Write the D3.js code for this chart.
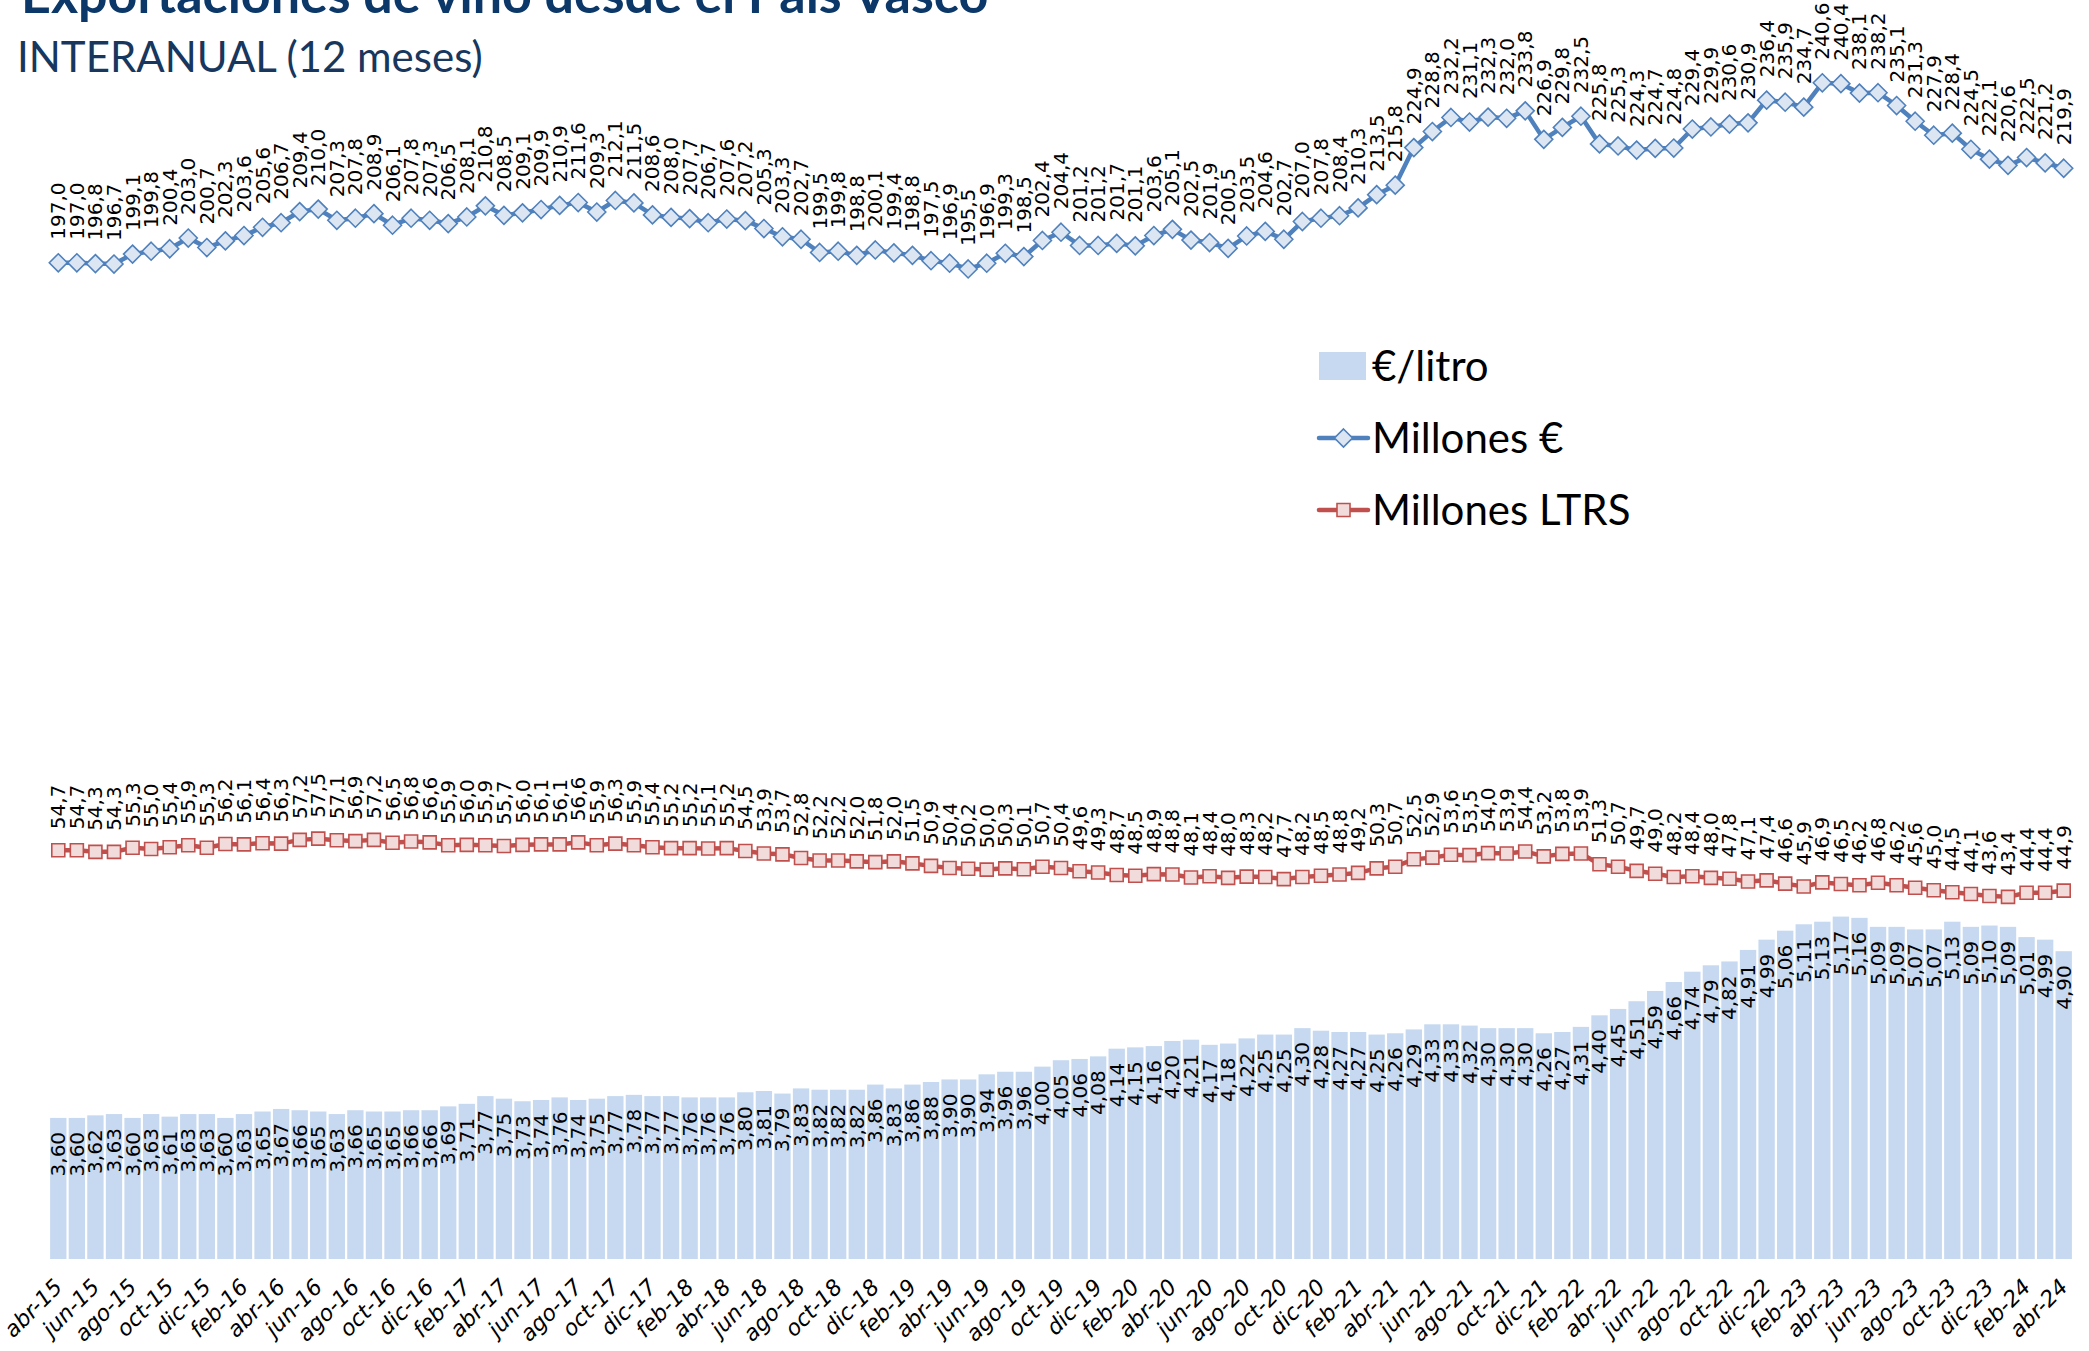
<!DOCTYPE html>
<html lang="es">
<head>
<meta charset="utf-8">
<title>Exportaciones de vino desde el País Vasco</title>
<script src="https://d3js.org/d3.v7.min.js"></script>
<style>
  body { margin: 0; background: #fff; }
  .lbl { font-family: "DejaVu Sans", sans-serif; font-size: 20px; fill: #000; }
  .xaxis text { font-family: "DejaVu Sans", sans-serif; font-style: italic; font-size: 22px; fill: #000; }
  .leg { font-family: Lato, sans-serif; font-size: 42px; fill: #000; }
</style>
</head>
<body>
<div id="viz"></div>
<script>

var months = [
  "abr-15","may-15","jun-15","jul-15","ago-15","sep-15","oct-15","nov-15","dic-15",
  "ene-16","feb-16","mar-16","abr-16","may-16","jun-16","jul-16","ago-16","sep-16","oct-16","nov-16","dic-16",
  "ene-17","feb-17","mar-17","abr-17","may-17","jun-17","jul-17","ago-17","sep-17","oct-17","nov-17","dic-17",
  "ene-18","feb-18","mar-18","abr-18","may-18","jun-18","jul-18","ago-18","sep-18","oct-18","nov-18","dic-18",
  "ene-19","feb-19","mar-19","abr-19","may-19","jun-19","jul-19","ago-19","sep-19","oct-19","nov-19","dic-19",
  "ene-20","feb-20","mar-20","abr-20","may-20","jun-20","jul-20","ago-20","sep-20","oct-20","nov-20","dic-20",
  "ene-21","feb-21","mar-21","abr-21","may-21","jun-21","jul-21","ago-21","sep-21","oct-21","nov-21","dic-21",
  "ene-22","feb-22","mar-22","abr-22","may-22","jun-22","jul-22","ago-22","sep-22","oct-22","nov-22","dic-22",
  "ene-23","feb-23","mar-23","abr-23","may-23","jun-23","jul-23","ago-23","sep-23","oct-23","nov-23","dic-23",
  "ene-24","feb-24","mar-24","abr-24"];

// €/litro (barras)
var eurLitro = [
  3.60,3.60,3.62,3.63,3.60,3.63,3.61,3.63,3.63,3.60,
  3.63,3.65,3.67,3.66,3.65,3.63,3.66,3.65,3.65,3.66,
  3.66,3.69,3.71,3.77,3.75,3.73,3.74,3.76,3.74,3.75,
  3.77,3.78,3.77,3.77,3.76,3.76,3.76,3.80,3.81,3.79,
  3.83,3.82,3.82,3.82,3.86,3.83,3.86,3.88,3.90,3.90,
  3.94,3.96,3.96,4.00,4.05,4.06,4.08,4.14,4.15,4.16,
  4.20,4.21,4.17,4.18,4.22,4.25,4.25,4.30,4.28,4.27,
  4.27,4.25,4.26,4.29,4.33,4.33,4.32,4.30,4.30,4.30,
  4.26,4.27,4.31,4.40,4.45,4.51,4.59,4.66,4.74,4.79,
  4.82,4.91,4.99,5.06,5.11,5.13,5.17,5.16,5.09,5.09,
  5.07,5.07,5.13,5.09,5.10,5.09,5.01,4.99,4.90];

// Millones €
var millonesEur = [
  197.0,197.0,196.8,196.7,199.1,199.8,200.4,203.0,200.7,202.3,
  203.6,205.6,206.7,209.4,210.0,207.3,207.8,208.9,206.1,207.8,
  207.3,206.5,208.1,210.8,208.5,209.1,209.9,210.9,211.6,209.3,
  212.1,211.5,208.6,208.0,207.7,206.7,207.6,207.2,205.3,203.3,
  202.7,199.5,199.8,198.8,200.1,199.4,198.8,197.5,196.9,195.5,
  196.9,199.3,198.5,202.4,204.4,201.2,201.2,201.7,201.1,203.6,
  205.1,202.5,201.9,200.5,203.5,204.6,202.7,207.0,207.8,208.4,
  210.3,213.5,215.8,224.9,228.8,232.2,231.1,232.3,232.0,233.8,
  226.9,229.8,232.5,225.8,225.3,224.3,224.7,224.8,229.4,229.9,
  230.6,230.9,236.4,235.9,234.7,240.6,240.4,238.1,238.2,235.1,
  231.3,227.9,228.4,224.5,222.1,220.6,222.5,221.2,219.9];

// Millones LTRS
var millonesLtrs = [
  54.7,54.7,54.3,54.3,55.3,55.0,55.4,55.9,55.3,56.2,
  56.1,56.4,56.3,57.2,57.5,57.1,56.9,57.2,56.5,56.8,
  56.6,55.9,56.0,55.9,55.7,56.0,56.1,56.1,56.6,55.9,
  56.3,55.9,55.4,55.2,55.2,55.1,55.2,54.5,53.9,53.7,
  52.8,52.2,52.2,52.0,51.8,52.0,51.5,50.9,50.4,50.2,
  50.0,50.3,50.1,50.7,50.4,49.6,49.3,48.7,48.5,48.9,
  48.8,48.1,48.4,48.0,48.3,48.2,47.7,48.2,48.5,48.8,
  49.2,50.3,50.7,52.5,52.9,53.6,53.5,54.0,53.9,54.4,
  53.2,53.8,53.9,51.3,50.7,49.7,49.0,48.2,48.4,48.0,
  47.8,47.1,47.4,46.6,45.9,46.9,46.5,46.2,46.8,46.2,
  45.6,45.0,44.5,44.1,43.6,43.4,44.4,44.4,44.9];

var legendNames = ["€/litro", "Millones €", "Millones LTRS"];

var width = 2089, height = 1351;
var barColor = "#c6d9f0",
    blue = "#4f81bd", blueFill = "#dce6f2",
    red = "#c0504d", redFill = "#f2dcdb";

var es = d3.formatLocale({decimal: ",", thousands: ".", grouping: [3], currency: ["", "€"]});
var f1 = es.format(".1f"), f2 = es.format(".2f");

var svg = d3.select("#viz")
  .append("svg")
    .attr("width", width)
    .attr("height", height);

var x = d3.scaleBand()
    .domain(months)
    .range([49, 2073])
    .paddingInner(0.12)
    .paddingOuter(0.06);
var cx = function(i) { return x(months[i]) + x.bandwidth() / 2; };

// primary axis (bars) and secondary axis (both lines), both hidden
var yBar = d3.scaleLinear().domain([2.5, 6.5]).range([1259, 746]);
var yLine = d3.scaleLinear().domain([0, 250]).range([1076, 44]);

// title
svg.append("text")
  .attr("x", 21).attr("y", 13)
  .style("font-family", "Lato, sans-serif").style("font-weight", "bold")
  .style("font-size", "52px").style("fill", "#0b3868")
  .text("Exportaciones de vino desde el País Vasco");
svg.append("text")
  .attr("x", 17).attr("y", 72)
  .style("font-family", "Lato, sans-serif")
  .style("font-size", "42px").style("fill", "#17375e")
  .text("INTERANUAL (12 meses)");

// bars
svg.append("g")
  .selectAll("rect")
  .data(eurLitro)
  .join("rect")
    .attr("x", function(d, i) { return x(months[i]); })
    .attr("y", function(d) { return yBar(d); })
    .attr("width", x.bandwidth())
    .attr("height", function(d) { return yBar(2.5) - yBar(d); })
    .attr("fill", barColor);

svg.append("g")
  .selectAll("text")
  .data(eurLitro)
  .join("text")
    .attr("class", "lbl")
    .attr("transform", function(d, i) { return "translate(" + cx(i) + "," + (yBar(d) + 14) + ") rotate(-90)"; })
    .attr("dy", "0.35em")
    .attr("text-anchor", "end")
    .text(function(d) { return f2(d); });

// x axis
var xAxis = svg.append("g")
  .attr("class", "xaxis")
  .attr("transform", "translate(0,1283)")
  .call(d3.axisBottom(x)
    .tickValues(months.filter(function(m, i) { return i % 2 == 0; }))
    .tickSize(0));
xAxis.select(".domain").remove();
xAxis.selectAll("text")
  .attr("x", 0).attr("y", 0).attr("dy", "0.35em")
  .attr("transform", "rotate(-45)")
  .style("text-anchor", "end");

// lines
function drawLine(values, color, fill, marker, gap) {
  var line = d3.line()
    .x(function(d, i) { return cx(i); })
    .y(function(d) { return yLine(d); });
  svg.append("path")
    .datum(values)
    .attr("d", line)
    .attr("fill", "none")
    .attr("stroke", color)
    .attr("stroke-width", 4.5)
    .attr("stroke-linejoin", "round");
  svg.append("g")
    .selectAll("path")
    .data(values)
    .join("path")
      .attr("d", marker)
      .attr("transform", function(d, i) { return "translate(" + cx(i) + "," + yLine(d) + ")"; })
      .attr("fill", fill)
      .attr("stroke", color)
      .attr("stroke-width", 1.6);
  svg.append("g")
    .selectAll("text")
    .data(values)
    .join("text")
      .attr("class", "lbl")
      .attr("transform", function(d, i) { return "translate(" + cx(i) + "," + (yLine(d) - gap) + ") rotate(-90)"; })
      .attr("dy", "0.35em")
      .attr("text-anchor", "start")
      .text(function(d) { return f1(d); });
}
var diamond = "M0,-9L9,0L0,9L-9,0Z";
var square = "M-6.5,-6.5H6.5V6.5H-6.5Z";
drawLine(millonesEur, blue, blueFill, diamond, 23);
drawLine(millonesLtrs, red, redFill, square, 21);

// legend
var leg = svg.append("g").attr("transform", "translate(1319,0)");
var rowY = [366, 438, 510];
leg.append("rect")
  .attr("x", 0).attr("y", rowY[0] - 14)
  .attr("width", 47).attr("height", 28)
  .attr("fill", barColor);
[[blue, blueFill, diamond], [red, redFill, square]].forEach(function(s, k) {
  var yy = rowY[k + 1];
  leg.append("line")
    .attr("x1", 0).attr("x2", 49).attr("y1", yy).attr("y2", yy)
    .attr("stroke", s[0]).attr("stroke-width", 4.5).attr("stroke-linecap", "round");
  leg.append("path")
    .attr("d", s[2])
    .attr("transform", "translate(24.5," + yy + ")")
    .attr("fill", s[1]).attr("stroke", s[0]).attr("stroke-width", 1.6);
});
leg.selectAll(".leg")
  .data(legendNames)
  .join("text")
    .attr("class", "leg")
    .attr("x", 53)
    .attr("y", function(d, i) { return rowY[i]; })
    .attr("dy", "0.36em")
    .text(function(d) { return d; });

</script>
</body>
</html>
